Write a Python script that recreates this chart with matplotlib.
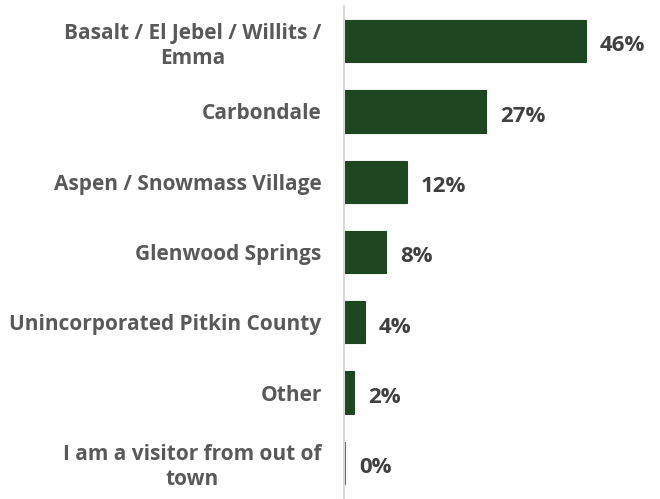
import matplotlib
matplotlib.use("Agg")
import matplotlib.pyplot as plt

categories = ["Basalt / El Jebel / Willits /\nEmma", "Carbondale", "Aspen / Snowmass Village",
              "Glenwood Springs", "Unincorporated Pitkin County", "Other",
              "I am a visitor from out of\ntown"]
values = [46, 27, 12, 8, 4, 2, 0.3]
value_labels = [f"{round(v)}%" for v in values]

plt.rcParams['font.family'] = ['Open Sans', 'DejaVu Sans']
fig = plt.figure(figsize=(6.6, 4.99), dpi=100)
ax = fig.add_axes([0.521, 0.002, 0.479, 0.986])

ypos = list(range(len(categories)))
bars = ax.barh(ypos, values, height=0.6, color="#1e4620", edgecolor="#1e4620", linewidth=0.8)
bars[-1].set_color("#4a7a52")
ax.set_ylim(len(categories) - 0.5, -0.5)
ax.set_xlim(0, 60)
ax.set_yticks(ypos)
ax.set_yticklabels(categories, fontsize=15, fontweight="bold", color="#595959")
for lab in ax.get_yticklabels():
    lab.set_multialignment("center")
    lab.set_linespacing(1.25)
ax.tick_params(axis="y", length=0, pad=16)
ax.set_xticks([])
for s in ["top", "right", "bottom"]:
    ax.spines[s].set_visible(False)
ax.spines["left"].set_color("#d9d9d9")
ax.spines["left"].set_linewidth(1.5)

for y, v, t in zip(ypos, values, value_labels):
    ax.annotate(t, xy=(v, y), xytext=(10, -3.5), textcoords="offset points",
                ha="left", va="center", fontsize=16, fontweight="bold", color="#404040")

fig.savefig("out.png", dpi=100)
